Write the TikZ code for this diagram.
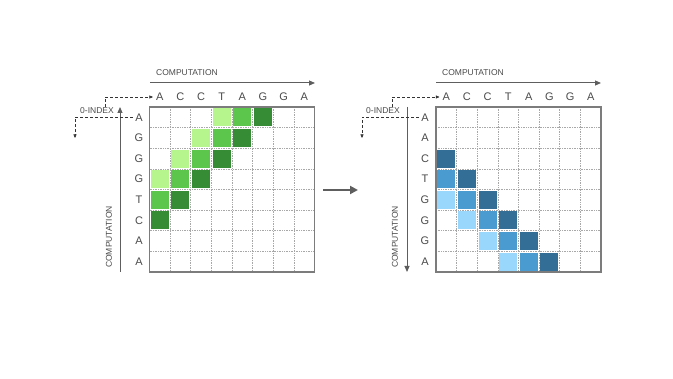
\documentclass[tikz,border=0pt]{standalone}
\usepackage{fontspec}
\setmainfont{Liberation Sans}
\usetikzlibrary{arrows.meta}
\definecolor{gridgray}{HTML}{7C7C7C}
\definecolor{dotgray}{HTML}{A8A8A8}
\definecolor{arrowgray}{HTML}{5E5E5E}
\definecolor{txtgray}{HTML}{4A4A4A}
\definecolor{glight}{HTML}{B6F58E}
\definecolor{gmid}{HTML}{5CC64C}
\definecolor{gdark}{HTML}{358C35}
\definecolor{blight}{HTML}{99D8FC}
\definecolor{bmid}{HTML}{4A9CD0}
\definecolor{bdark}{HTML}{336E96}
\tikzset{
  seqlabel/.style={font=\fontsize{11}{13}\selectfont, text=txtgray, inner sep=1pt},
  axislabel/.style={font=\fontsize{8.5}{10}\selectfont, text=txtgray, inner sep=1pt},
  axisarrow/.style={draw=arrowgray, line width=1pt, -{Triangle[length=6pt, width=5pt]}},
  idxline/.style={draw=black!80, densely dashed, line width=0.5pt, -{Triangle[length=3.5pt, width=3pt]}},
  cellline/.style={draw=dotgray, densely dotted, line width=0.7pt},
  frameline/.style={draw=gridgray, line width=1.4pt},
}
\newcommand{\cs}{20.625}
\begin{document}
\begin{tikzpicture}[x=1pt, y=-1pt]
  \useasboundingbox (0,0) rectangle (673,379);
  % Left matrix (green)
  \begin{scope}[shift={(149.5,107)}]
    \foreach \r in {0,...,5} {
      \foreach \c/\col in {3/glight, 4/gmid, 5/gdark} {
        \pgfmathtruncatemacro{\cc}{\c-\r}
        \ifnum\cc>-1
          \fill[\col] (\cc*\cs+1.3, \r*\cs+1.3) rectangle ++(\cs-2.6, \cs-2.6);
        \fi
      }
    }
    \foreach \k in {1,...,7} {
      \draw[cellline] (\k*\cs, 0) -- (\k*\cs, 8*\cs);
      \draw[cellline] (0, \k*\cs) -- (8*\cs, \k*\cs);
    }
    \draw[frameline] (0,0) rectangle (8*\cs, 8*\cs);
    \foreach \l [count=\i from 0] in {A,C,C,T,A,G,G,A}
      \node[seqlabel] (colL\i) at (\i*\cs+0.5*\cs, -10) {\l};
    \foreach \l [count=\i from 0] in {A,G,G,G,T,C,A,A}
      \node[seqlabel] (rowL\i) at (-10.5, \i*\cs+0.5*\cs) {\l};
  \end{scope}
  % Left axes
  \node[axislabel] (compTopL) at (187,73) {COMPUTATION};
  \coordinate (topStartL) at (150,83);
  \coordinate (topEndL) at (315,83);
  \draw[axisarrow] (topStartL) -- (topEndL);
  \coordinate (vertStartL) at (120,272);
  \coordinate (vertEndL) at (120,107);
  \draw[axisarrow] (vertStartL) -- (vertEndL);
  \node[axislabel, rotate=90] (compSideL) at (109,237) {COMPUTATION};
  \node[axislabel] (idxL) at (97,111) {0-INDEX};
  \coordinate (idxDownL) at (75,138);
  \draw[idxline] ([xshift=8pt]idxL.north) |- ([xshift=-2pt]colL0.west);
  \draw[idxline] ([xshift=-1pt]rowL0.west) -| (idxDownL);
  % Middle arrow
  \coordinate (midStart) at (323,190);
  \coordinate (midEnd) at (358,190);
  \draw[draw=arrowgray, line width=2pt, -{Triangle[length=8pt, width=8pt]}] (midStart) -- (midEnd);
  % Right matrix (blue)
  \begin{scope}[shift={(436,107)}]
    \foreach \r in {2,...,7} {
      \foreach \c/\col in {2/bdark, 3/bmid, 4/blight} {
        \pgfmathtruncatemacro{\cc}{\r-\c}
        \ifnum\cc>-1
          \fill[\col] (\cc*\cs+1.3, \r*\cs+1.3) rectangle ++(\cs-2.6, \cs-2.6);
        \fi
      }
    }
    \foreach \k in {1,...,7} {
      \draw[cellline] (\k*\cs, 0) -- (\k*\cs, 8*\cs);
      \draw[cellline] (0, \k*\cs) -- (8*\cs, \k*\cs);
    }
    \draw[frameline] (0,0) rectangle (8*\cs, 8*\cs);
    \foreach \l [count=\i from 0] in {A,C,C,T,A,G,G,A}
      \node[seqlabel] (colR\i) at (\i*\cs+0.5*\cs, -10) {\l};
    \foreach \l [count=\i from 0] in {A,A,C,T,G,G,G,A}
      \node[seqlabel] (rowR\i) at (-11, \i*\cs+0.5*\cs) {\l};
  \end{scope}
  % Right axes
  \node[axislabel] (compTopR) at (473,73) {COMPUTATION};
  \coordinate (topStartR) at (436,83);
  \coordinate (topEndR) at (601,83);
  \draw[axisarrow] (topStartR) -- (topEndR);
  \coordinate (vertStartR) at (407,107);
  \coordinate (vertEndR) at (407,272);
  \draw[axisarrow] (vertStartR) -- (vertEndR);
  \node[axislabel, rotate=90] (compSideR) at (395,237) {COMPUTATION};
  \node[axislabel] (idxR) at (383,111) {0-INDEX};
  \coordinate (idxDownR) at (362,138);
  \draw[idxline] ([xshift=9pt]idxR.north) |- ([xshift=-2pt]colR0.west);
  \draw[idxline] ([xshift=-1pt]rowR0.west) -| (idxDownR);
\end{tikzpicture}
\end{document}
